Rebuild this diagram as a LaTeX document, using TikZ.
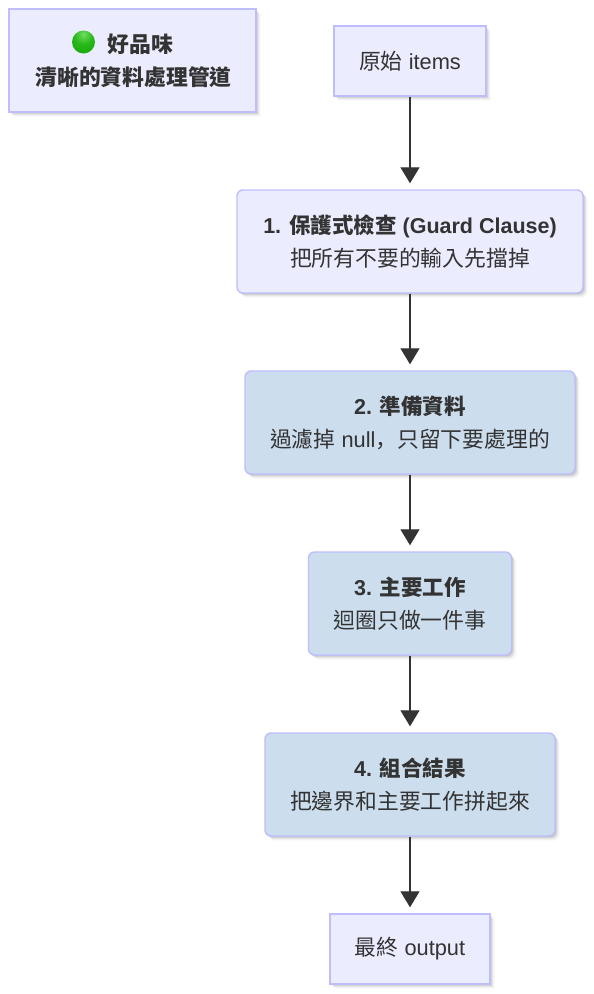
\documentclass[tikz,border=0pt]{standalone}
\usepackage{fontspec}
\setmainfont{Liberation Sans}
\newfontfamily\cjk{Noto Sans CJK TC}
\newfontfamily\cjksc{Noto Sans CJK SC}
\newcommand{\zh}[1]{{\cjk #1}}
\newcommand{\headline}[1]{{\fontsize{21.5}{33}\selectfont\bfseries #1}}
\usetikzlibrary{arrows.meta,shadows}
\definecolor{fillA}{HTML}{ECECFF}
\definecolor{edgeA}{HTML}{BEBEFF}
\definecolor{fillB}{HTML}{CCDDEE}
\definecolor{ink}{HTML}{333333}
\definecolor{ballA}{HTML}{6FDE60}
\definecolor{ballB}{HTML}{28B81A}
\definecolor{ballC}{HTML}{12A405}
\definecolor{ballD}{HTML}{0D8F03}
\definecolor{ballE}{HTML}{056B02}
\pgfdeclareradialshading{greenball}{\pgfpoint{0bp}{18bp}}{%
  color(0bp)=(ballA);
  color(20bp)=(ballB);
  color(42bp)=(ballC);
  color(58bp)=(ballD);
  color(70bp)=(ballE);
  color(100bp)=(ballE)}
\tikzset{
  softshadow/.style={
    general shadow={shadow xshift=5pt,shadow yshift=-5pt,fill=black,opacity=.015},
    general shadow={shadow xshift=4pt,shadow yshift=-4pt,fill=black,opacity=.03},
    general shadow={shadow xshift=3pt,shadow yshift=-3pt,fill=black,opacity=.05},
    general shadow={shadow xshift=2pt,shadow yshift=-2pt,fill=black,opacity=.07},
    general shadow={shadow xshift=1pt,shadow yshift=-1pt,fill=black,opacity=.08}},
  base/.style={draw=edgeA,line width=1.4pt,text=ink,align=center,inner sep=0pt,softshadow,
    font=\fontsize{21.8}{33}\selectfont},
  plainbox/.style={base,fill=fillA},
  softbox/.style={base,fill=fillA,rounded corners=6pt},
  bluebox/.style={base,fill=fillB,rounded corners=6pt},
  flow/.style={draw=ink,line width=1.3pt,-{Triangle[length=16pt,width=19pt]},shorten >=6pt}
}
\begin{document}
\begin{tikzpicture}[x=1pt,y=-1pt]
\useasboundingbox[fill=white] (0,0) rectangle (594,994);
\node[plainbox,minimum width=247pt,minimum height=103pt] (legend) at (132.5,60.5)
  {\hspace*{16pt}\zh{\bfseries 好品味}\\\hspace*{2pt}\zh{\bfseries 清晰的資料處理管道}};
\node[circle,minimum size=23pt,inner sep=0pt,draw=none,shading=greenball] (dot) at (83.5,42) {};
\node[plainbox,minimum width=152pt,minimum height=70pt] (start) at (410,61) {\zh{原始} items};
\node[softbox,minimum width=346pt,minimum height=103pt] (one) at (410,241.5)
  {\headline{1. \zh{\bfseries 保護式檢查} (Guard Clause)}\\\zh{把所有不要的輸入先擋掉}};
\node[bluebox,minimum width=330pt,minimum height=103pt] (two) at (410,422.5)
  {\headline{2. \zh{\bfseries 準備資料}}\\\zh{過濾掉} null{\cjksc ，}\zh{只留下要處理的}};
\node[bluebox,minimum width=203pt,minimum height=103pt] (three) at (410,603.5)
  {\headline{3. \zh{\bfseries 主要工作}}\\\zh{迴圈只做一件事}};
\node[bluebox,minimum width=290pt,minimum height=103pt] (four) at (410,784.5)
  {\headline{4. \zh{\bfseries 組合結果}}\\\zh{把邊界和主要工作拼起來}};
\node[plainbox,minimum width=160pt,minimum height=70pt] (final) at (410,949) {\zh{最終} output};
\draw[flow] (start) -- (one);
\draw[flow] (one) -- (two);
\draw[flow] (two) -- (three);
\draw[flow] (three) -- (four);
\draw[flow] (four) -- (final);
\end{tikzpicture}
\end{document}
